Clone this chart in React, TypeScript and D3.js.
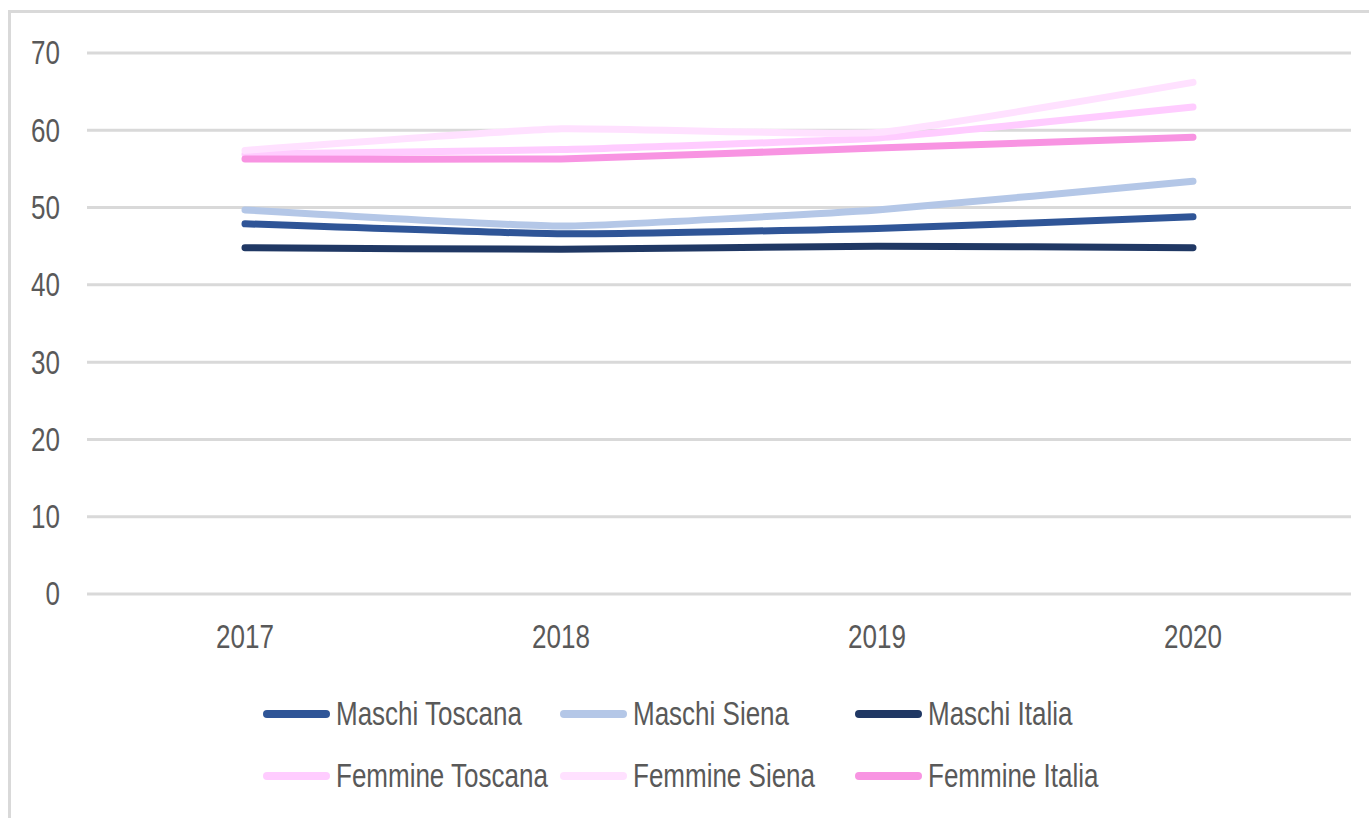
import React, { useRef, useEffect } from 'react';
import * as d3 from 'd3';

const anni = ['2017', '2018', '2019', '2020'];
const serie = ['Maschi Toscana', 'Maschi Siena', 'Maschi Italia', 'Femmine Toscana', 'Femmine Siena', 'Femmine Italia'];
const colori = ['#2F5597', '#B4C7E7', '#203864', '#FFCCFF', '#FFE1FF', '#F894E2'];

const maschiToscana = [47.9, 46.6, 47.3, 48.8];
const maschiSiena = [49.7, 47.6, 49.7, 53.4];
const maschiItalia = [44.8, 44.6, 45.0, 44.8];
const femmineToscana = [56.9, 57.5, 59.0, 63.0];
const femmineSiena = [57.4, 60.2, 59.7, 66.2];
const femmineItalia = [56.3, 56.3, 57.7, 59.1];

const valori = [maschiToscana, maschiSiena, maschiItalia, femmineToscana, femmineSiena, femmineItalia];
const yTicks = [0, 10, 20, 30, 40, 50, 60, 70];

export default function App() {
  const svgRef = useRef<SVGSVGElement>(null);
  const width = 1369;
  const height = 818;

  useEffect(() => {
    const svg = d3.select(svgRef.current);
    svg.selectAll('*').remove();

    const font = '"Liberation Sans", Arial, sans-serif';
    const grigio = '#595959';
    const stretch = 1.25;
    const fs = 26;

    // cornice
    svg.append('rect')
      .attr('x', 9.5).attr('y', 11.5)
      .attr('width', width + 20).attr('height', height + 20)
      .attr('fill', 'none').attr('stroke', '#d9d9d9').attr('stroke-width', 3);

    const x = d3.scaleBand().domain(anni).range([87, 1351]);
    const y = d3.scaleLinear().domain([0, 70]).range([594, 53]);

    // griglia
    svg.append('g').selectAll('line').data(yTicks).enter().append('line')
      .attr('x1', 87).attr('x2', 1351)
      .attr('y1', d => y(d)).attr('y2', d => y(d))
      .attr('stroke', '#d9d9d9').attr('stroke-width', 3);

    // etichette asse y
    svg.append('g').selectAll('text').data(yTicks).enter().append('text')
      .attr('transform', d => `translate(60,${y(d)}) scale(1,${stretch})`)
      .attr('dy', '0.35em')
      .attr('text-anchor', 'end')
      .attr('font-family', font).attr('font-size', fs).attr('fill', grigio)
      .text(d => d);

    // etichette asse x
    svg.append('g').selectAll('text').data(anni).enter().append('text')
      .attr('transform', d => `translate(${x(d)! + x.bandwidth() / 2},637) scale(1,${stretch})`)
      .attr('dy', '0.35em')
      .attr('text-anchor', 'middle')
      .attr('font-family', font).attr('font-size', fs).attr('fill', grigio)
      .text(d => d);

    // linee
    const line = d3.line<number>()
      .x((_, i) => x(anni[i])! + x.bandwidth() / 2)
      .y(d => y(d))
      .curve(d3.curveCardinal.tension(0.6));

    svg.append('g').selectAll('path').data(valori).enter().append('path')
      .attr('d', d => line(d))
      .attr('fill', 'none')
      .attr('stroke', (_, i) => colori[i])
      .attr('stroke-width', 7)
      .attr('stroke-linecap', 'round')
      .attr('stroke-linejoin', 'round');

    // legenda
    const colX = [263, 560, 855];
    const rowY = [714, 776];
    const leg = svg.append('g').selectAll('g').data(serie).enter().append('g')
      .attr('transform', (_, i) => `translate(${colX[i % 3]},${rowY[Math.floor(i / 3)]})`);
    leg.append('line')
      .attr('x1', 4).attr('x2', 63).attr('y1', 0).attr('y2', 0)
      .attr('stroke', (_, i) => colori[i])
      .attr('stroke-width', 8)
      .attr('stroke-linecap', 'round');
    leg.append('text')
      .attr('transform', `translate(73,0) scale(1,${stretch})`)
      .attr('dy', '0.35em')
      .attr('font-family', font).attr('font-size', fs).attr('fill', grigio)
      .text(d => d);
  }, []);

  return (
    <svg
      ref={svgRef}
      width={width}
      height={height}
      style={{ position: 'absolute', left: 0, top: 0, background: '#fff' }}
    />
  );
}
